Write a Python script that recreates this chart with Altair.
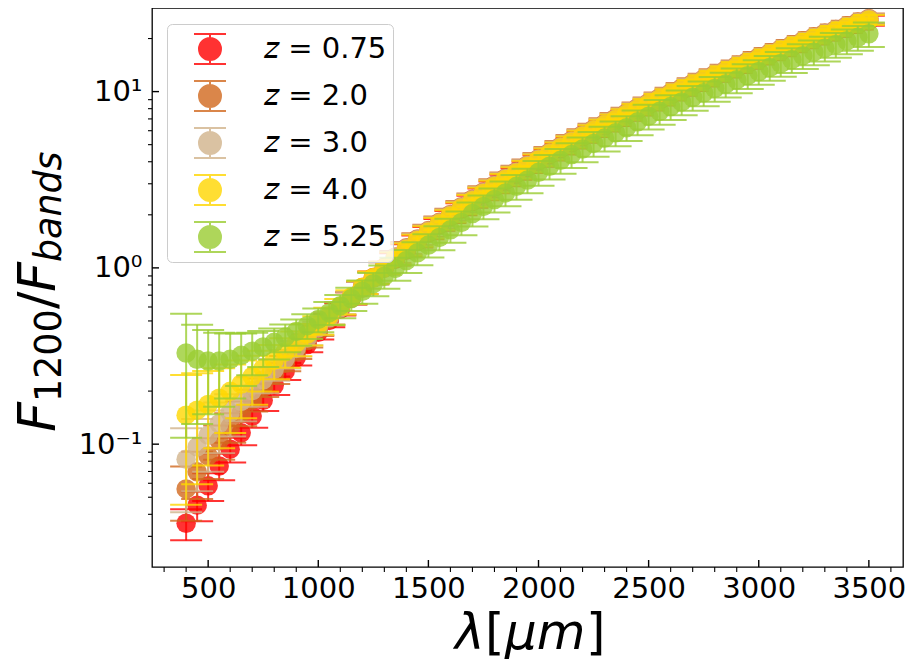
import altair as alt
import pandas as pd

# ---------------- data ----------------
LAMBDA = list(range(400, 3550, 50))  # wavelength grid, 400..3500 um

LABELS = ["\U0001D63B = 0.75", "\U0001D63B = 2.0", "\U0001D63B = 3.0", "\U0001D63B = 4.0", "\U0001D63B = 5.25"]
COLORS = ["#ff0000", "#d2691e", "#d2b48c", "#ffd700", "#9acd32"]

red_vals = [0.0356, 0.0451, 0.058, 0.0753, 0.0936, 0.116, 0.1443, 0.1775, 0.2158, 0.2598,
            0.31, 0.367, 0.4314, 0.5036, 0.5841, 0.6738, 0.7732, 0.8828, 1.0036,
            1.120, 1.261, 1.415, 1.580, 1.759, 1.951, 2.158, 2.380, 2.617, 2.869,
            3.137, 3.423, 3.727, 4.049, 4.390, 4.750, 5.130, 5.531, 5.953, 6.396,
            6.862, 7.351, 7.863, 8.399, 8.961, 9.550, 10.17, 10.80, 11.47, 12.17,
            12.90, 13.65, 14.43, 15.25, 16.10, 16.98, 17.89, 18.83, 19.81, 20.83,
            21.88, 22.96, 24.09, 25.25]
orange_vals = [0.0557, 0.0697, 0.0858, 0.1045, 0.1259, 0.1504, 0.1784, 0.2103, 0.2465, 0.2876,
               0.3342, 0.3869, 0.4464, 0.5134, 0.5888, 0.6737, 0.7691, 0.8759, 0.9957,
               1.154, 1.299, 1.458, 1.628, 1.813, 2.010, 2.224, 2.452, 2.696, 2.956,
               3.232, 3.527, 3.840, 4.172, 4.523, 4.894, 5.286, 5.699, 6.133, 6.590,
               7.070, 7.574, 8.101, 8.654, 9.233, 9.839, 10.48, 11.13, 11.82, 12.54,
               13.29, 14.07, 14.87, 15.71, 16.59, 17.49, 18.43, 19.40, 20.41, 21.46,
               22.54, 23.65, 24.82, 26.01]
tan_vals = [0.0822, 0.0964, 0.1124, 0.1307, 0.1513, 0.1748, 0.2015, 0.2318, 0.2661, 0.3051,
            0.3493, 0.3995, 0.4563, 0.5207, 0.5937, 0.6765, 0.7702, 0.8761, 0.996,
            1.142, 1.287, 1.443, 1.612, 1.795, 1.991, 2.202, 2.428, 2.669, 2.927,
            3.201, 3.493, 3.803, 4.131, 4.478, 4.846, 5.234, 5.643, 6.073, 6.526,
            7.000, 7.499, 8.021, 8.569, 9.143, 9.742, 10.37, 11.02, 11.71, 12.41,
            13.16, 13.93, 14.73, 15.55, 16.42, 17.32, 18.25, 19.21, 20.21, 21.25,
            22.32, 23.42, 24.57, 25.76]
gold_vals = [0.146, 0.1558, 0.1679, 0.1824, 0.1995, 0.2194, 0.2425, 0.2691, 0.2997, 0.3349,
             0.3753, 0.4216, 0.4746, 0.5354, 0.6051, 0.6851, 0.7768, 0.8819, 1.0025,
             1.131, 1.274, 1.429, 1.596, 1.777, 1.971, 2.180, 2.404, 2.643, 2.898,
             3.169, 3.458, 3.765, 4.090, 4.434, 4.798, 5.182, 5.587, 6.013, 6.461,
             6.931, 7.425, 7.942, 8.484, 9.052, 9.646, 10.27, 10.91, 11.59, 12.29,
             13.03, 13.79, 14.58, 15.40, 16.26, 17.15, 18.07, 19.02, 20.01, 21.04,
             22.10, 23.19, 24.33, 25.50]
green_vals = [0.329, 0.303, 0.296, 0.296, 0.303, 0.319, 0.337, 0.356, 0.378, 0.405,
              0.436, 0.470, 0.510, 0.557, 0.610, 0.670, 0.737, 0.813, 0.897,
              0.993, 1.100, 1.217, 1.348, 1.489, 1.643, 1.811, 2.032, 2.230, 2.440,
              2.663, 2.901, 3.152, 3.485, 3.771, 4.074, 4.392, 4.728, 5.080, 5.451,
              5.839, 6.245, 6.736, 7.254, 7.728, 8.223, 8.741, 9.279, 9.841, 10.43,
              11.03, 11.66, 12.32, 13.00, 13.71, 14.44, 15.20, 15.98, 16.80, 17.64,
              18.51, 19.41, 20.33, 21.29]

# relative (1-sigma) error of each point
HIGH_REL = [0.08, 0.08, 0.079, 0.079, 0.078, 0.078, 0.077, 0.077, 0.076, 0.076,
            0.075, 0.075, 0.074, 0.074, 0.073, 0.073, 0.072, 0.072, 0.071, 0.071,
            0.070, 0.070, 0.070, 0.069, 0.069, 0.069, 0.068, 0.068, 0.068, 0.067,
            0.067, 0.067, 0.067, 0.066, 0.066, 0.066, 0.066, 0.065, 0.065, 0.065,
            0.065, 0.065, 0.065, 0.065]
red_rel = [0.20, 0.19, 0.18, 0.17, 0.16, 0.15, 0.14, 0.13, 0.12, 0.11,
           0.10, 0.095, 0.09, 0.085, 0.08, 0.08, 0.08, 0.08, 0.08] + HIGH_REL
orange_rel = [0.34, 0.30, 0.26, 0.22, 0.19, 0.16, 0.14, 0.12, 0.11, 0.10,
              0.09, 0.085, 0.08, 0.08, 0.08, 0.08, 0.08, 0.08, 0.08] + HIGH_REL
tan_rel = [0.50, 0.44, 0.38, 0.32, 0.27, 0.23, 0.19, 0.16, 0.14, 0.12,
           0.10, 0.09, 0.085, 0.08, 0.08, 0.08, 0.08, 0.08, 0.08] + HIGH_REL
gold_rel = [0.69, 0.62, 0.55, 0.48, 0.42, 0.36, 0.31, 0.26, 0.22, 0.19,
            0.16, 0.14, 0.12, 0.11, 0.10, 0.09, 0.085, 0.08, 0.08] + HIGH_REL
green_rel = [0.67, 0.57, 0.50, 0.45, 0.40, 0.33, 0.27, 0.23, 0.20, 0.18,
             0.17, 0.16, 0.155, 0.15, 0.15, 0.15, 0.15, 0.15, 0.15,
             0.15, 0.15, 0.15, 0.15, 0.155, 0.155, 0.155, 0.155, 0.155, 0.155,
             0.16, 0.16, 0.16, 0.16, 0.16, 0.16, 0.16, 0.16, 0.16, 0.16,
             0.16, 0.16, 0.16, 0.16, 0.16, 0.16, 0.16, 0.16, 0.16, 0.16,
             0.16, 0.16, 0.16, 0.16, 0.16, 0.16, 0.16, 0.16, 0.16, 0.16,
             0.16, 0.16, 0.16, 0.16]

X_MAJOR = [500, 1000, 1500, 2000, 2500, 3000, 3500]
X_MINOR = [300, 400, 600, 700, 800, 900, 1100, 1200, 1300, 1400, 1600, 1700, 1800, 1900,
           2100, 2200, 2300, 2400, 2600, 2700, 2800, 2900, 3100, 3200, 3300, 3400, 3600]
Y_MAJOR = [0.1, 1, 10]
Y_MINOR = [0.03, 0.04, 0.05, 0.06, 0.07, 0.08, 0.09, 0.2, 0.3, 0.4, 0.5, 0.6, 0.7, 0.8, 0.9,
           2, 3, 4, 5, 6, 7, 8, 9, 20]

# ---------------- chart ----------------
W, H = 751, 559
FONT = "DejaVu Sans"

xs = alt.Scale(domain=[245, 3655], nice=False, zero=False)
ys = alt.Scale(type="log", domain=[0.0201, 29.8], nice=False)
cs = alt.Scale(domain=LABELS, range=COLORS)

x_axis = alt.Axis(values=X_MAJOR, format="d", ticks=False, domain=False, grid=False,
                  labelFontSize=29, labelPadding=7, labelFlush=False, labelOverlap=False,
                  title=None)
y_axis = alt.Axis(values=Y_MAJOR, ticks=False, domain=False, grid=False,
                  labelFontSize=29, labelPadding=10, labelOverlap=False, title=None,
                  labelExpr="datum.value >= 5 ? '10¹' : (datum.value >= 0.5 ? '10⁰' : '10⁻¹')")

SYMBOL = ("M -0.611 0 A 0.611 0.611 0 1 0 0.611 0 A 0.611 0.611 0 1 0 -0.611 0 Z "
          "M -0.889 -0.833 L 0.889 -0.833 M 0 -0.833 L 0 0.833 M -0.889 0.833 L 0.889 0.833")
legend = alt.Legend(title=None, orient="none", legendX=15, legendY=16,
                    symbolType=SYMBOL, symbolSize=1296, symbolStrokeWidth=2,
                    symbolOpacity=0.8, labelFontSize=29, labelFont=FONT, labelColor="black",
                    labelOffset=35, rowPadding=9, padding=6, symbolOffset=18,
                    strokeColor="#cccccc", fillColor="rgba(255,255,255,0.8)",
                    cornerRadius=5, labelLimit=400)

series = [(LABELS[0], red_vals, red_rel), (LABELS[1], orange_vals, orange_rel),
          (LABELS[2], tan_vals, tan_rel), (LABELS[3], gold_vals, gold_rel),
          (LABELS[4], green_vals, green_rel)]

X = alt.X("lam:Q", scale=xs, axis=x_axis)
layers = []
for label, vals, rels in series:
    df = pd.DataFrame({"lam": LAMBDA, "val": vals, "rel": rels})
    df["lo"] = df["val"] * (1 - df["rel"])
    df["hi"] = df["val"] * (1 + df["rel"])
    df["z"] = label
    base = alt.Chart(df)
    stroke = alt.Stroke("z:N", scale=cs, legend=legend)
    bars = base.mark_rule(strokeWidth=2, opacity=0.8).encode(
        x=X, y=alt.Y("lo:Q", scale=ys, axis=y_axis), y2="hi:Q", stroke=stroke)
    caps = base.transform_fold(["lo", "hi"], as_=["k", "yv"]).mark_point(
        shape="M -1 0 L 1 0", size=1024, filled=False, strokeWidth=2, opacity=0.8).encode(
        x=X, y=alt.Y("yv:Q", scale=ys, axis=y_axis), stroke=stroke)
    pts = base.mark_point(shape="circle", filled=True, size=380, opacity=0.8, strokeWidth=0).encode(
        x=X, y=alt.Y("val:Q", scale=ys, axis=y_axis),
        fill=alt.Fill("z:N", scale=cs, legend=legend), stroke=stroke)
    layers += [bars, caps, pts]

# tick marks (major inward, minor outward, as in the reference)
def xticks(vals, y1, y2, w):
    return alt.Chart(pd.DataFrame({"v": vals})).mark_rule(color="black", strokeWidth=w).encode(
        x=alt.X("v:Q", scale=xs, axis=x_axis), y=alt.value(y1), y2=alt.value(y2))

def yticks(vals, x1, x2, w):
    return alt.Chart(pd.DataFrame({"v": vals})).mark_rule(color="black", strokeWidth=w).encode(
        y=alt.Y("v:Q", scale=ys, axis=y_axis), x=alt.value(x1), x2=alt.value(x2))

layers += [xticks(X_MAJOR, H, H - 7, 1.4), xticks(X_MINOR, H, H + 5, 1.1),
           yticks(Y_MAJOR, 0, 7, 1.4), yticks(Y_MINOR, 0, -4, 1.1)]

# axis titles built from pieces (math-style italics, sub-scripts)
one = pd.DataFrame({"a": [0]})
def piece(txt, size, italic, x, y, angle=0):
    return alt.Chart(one).mark_text(text=txt, font=FONT, fontSize=size,
                                    fontStyle="italic" if italic else "normal",
                                    angle=angle, align="left", baseline="alphabetic",
                                    color="black").encode(x=alt.value(x), y=alt.value(y))

# y title: F_1200 / F_bands (rotated)
layers += [piece("F", 52, True, -97, 424, 270), piece("1200", 36.4, False, -91, 394, 270),
           piece("/", 52, False, -97, 301, 270), piece("F", 52, True, -97, 284, 270),
           piece("bands", 36.4, True, -91, 254, 270)]
# x title: lambda[mu m]
XB = H + 82
layers += [piece("λ", 50, True, 303, XB), piece("[", 50, False, 333, XB),
           piece("μm", 50, True, 353, XB), piece("]", 50, False, 434, XB)]

chart = alt.layer(*layers).properties(
    width=W, height=H,
    autosize=alt.AutoSizeParams(type="none"),
    padding={"left": 144, "top": 0, "right": 2, "bottom": 94},
).configure_view(stroke="black", strokeWidth=1.3).configure_axis(
    labelFont=FONT, titleFont=FONT, labelColor="black", titleColor="black"
).configure_text(font=FONT)

chart.save("out.html", embed_options={"renderer": "svg", "actions": False})
